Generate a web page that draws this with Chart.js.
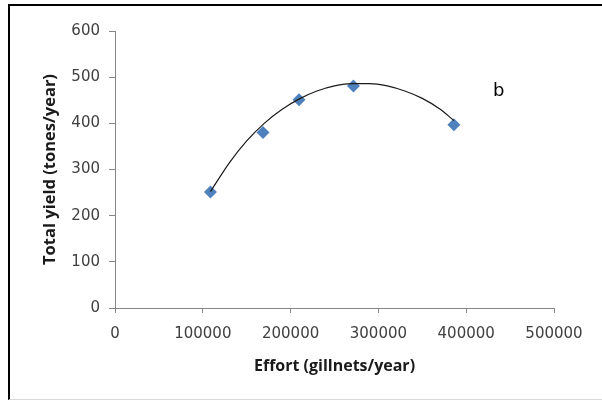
<!DOCTYPE html>
<html>
<head>
<meta charset="utf-8">
<script src="https://cdn.jsdelivr.net/npm/chart.js@4"></script>
<style>
  html, body { margin: 0; padding: 0; background: #fff; }
  #wrap { position: relative; width: 602px; height: 400px; overflow: hidden; }
  #frame { position: absolute; left: 8px; top: 4px; width: 620px; height: 393px;
           border-left: 2px solid #000; border-top: 2px solid #000; border-bottom: 1px solid #d9d9d9;
           pointer-events: none; }
  canvas { position: absolute; left: 0; top: 0; }
</style>
</head>
<body>
<div id="wrap">
  <canvas id="chart" width="602" height="400"></canvas>
  <div id="frame"></div>
</div>
<script>
// observed points
var effort = [108700, 168600, 209600, 271600, 386000];
var yieldT = [251, 380, 451, 481, 397];

// trendline
var curveX = [108700, 130000, 150000, 170000, 190000, 210000, 230000, 250000, 270000, 290000, 310000, 330000, 350000, 370000, 386000];
var curveY = [252, 314, 362, 400, 430, 453, 470, 481, 486, 486, 481, 470, 454, 431, 406];

var xTicks = [0, 100000, 200000, 300000, 400000, 500000];
var yTicks = [0, 100, 200, 300, 400, 500, 600];

var tickFont = { family: "DejaVu Sans", size: 15 };
var xTitleFont = { family: "Open Sans", size: 16, weight: "bold" };
var yTitleFont = { family: "Open Sans", size: 16.5, weight: "bold" };

// the "b" label
var labelB = { text: "b", x: 437000, y: 470 };
var letterPlugin = {
  id: "letter",
  afterDatasetsDraw: function (chart) {
    var c = chart.ctx;
    c.save();
    c.font = "18px 'DejaVu Sans'";
    c.fillStyle = "#000";
    c.textAlign = "center";
    c.textBaseline = "middle";
    c.fillText(labelB.text, chart.scales.x.getPixelForValue(labelB.x), chart.scales.y.getPixelForValue(labelB.y));
    c.restore();
  }
};

var ctx = document.getElementById("chart").getContext("2d");
var myChart = new Chart(ctx, {
  type: "scatter",
  data: {
    datasets: [
      {
        label: "trend",
        data: curveX.map(function (x, i) { return { x: x, y: curveY[i] }; }),
        showLine: true,
        borderColor: "#1a1a1a",
        borderWidth: 1.2,
        pointRadius: 0,
        cubicInterpolationMode: "monotone",
        order: 0
      },
      {
        label: "Total yield",
        data: effort.map(function (x, i) { return { x: x, y: yieldT[i] }; }),
        pointStyle: "rectRot",
        pointRadius: 6.5,
        backgroundColor: "#4F81BD",
        borderColor: "#4F81BD",
        borderWidth: 0,
        order: 1
      }
    ]
  },
  options: {
    responsive: false,
    animation: false,
    layout: { padding: { left: 0, top: 31, right: 48, bottom: 0 } },
    plugins: { legend: { display: false }, tooltip: { enabled: false } },
    scales: {
      x: {
        type: "linear",
        min: 0,
        max: 500000,
        afterFit: function (s) { s.height = 92; },
        afterBuildTicks: function (s) { s.ticks = xTicks.map(function (v) { return { value: v }; }); },
        ticks: { color: "#404040", font: tickFont, padding: 12, maxRotation: 0,
                 callback: function (v) { return String(v); } },
        grid: { drawOnChartArea: false, drawTicks: true, tickLength: 5, tickColor: "#868686" },
        border: { color: "#868686", width: 1 },
        title: { display: true, text: "Effort (gillnets/year)", color: "#1a1a1a", font: xTitleFont,
                 padding: { top: 0, bottom: 24 } }
      },
      y: {
        min: 0,
        max: 600,
        afterFit: function (s) { s.width = 115; },
        afterBuildTicks: function (s) { s.ticks = yTicks.map(function (v) { return { value: v }; }); },
        ticks: { color: "#404040", font: tickFont, padding: 9 },
        grid: { drawOnChartArea: false, drawTicks: true, tickLength: 6, tickColor: "#868686" },
        border: { color: "#868686", width: 1 },
        title: { display: true, text: "Total yield (tones/year)", color: "#1a1a1a", font: yTitleFont,
                 padding: { top: 40, bottom: 0 } }
      }
    }
  },
  plugins: [letterPlugin]
});
</script>
</body>
</html>
